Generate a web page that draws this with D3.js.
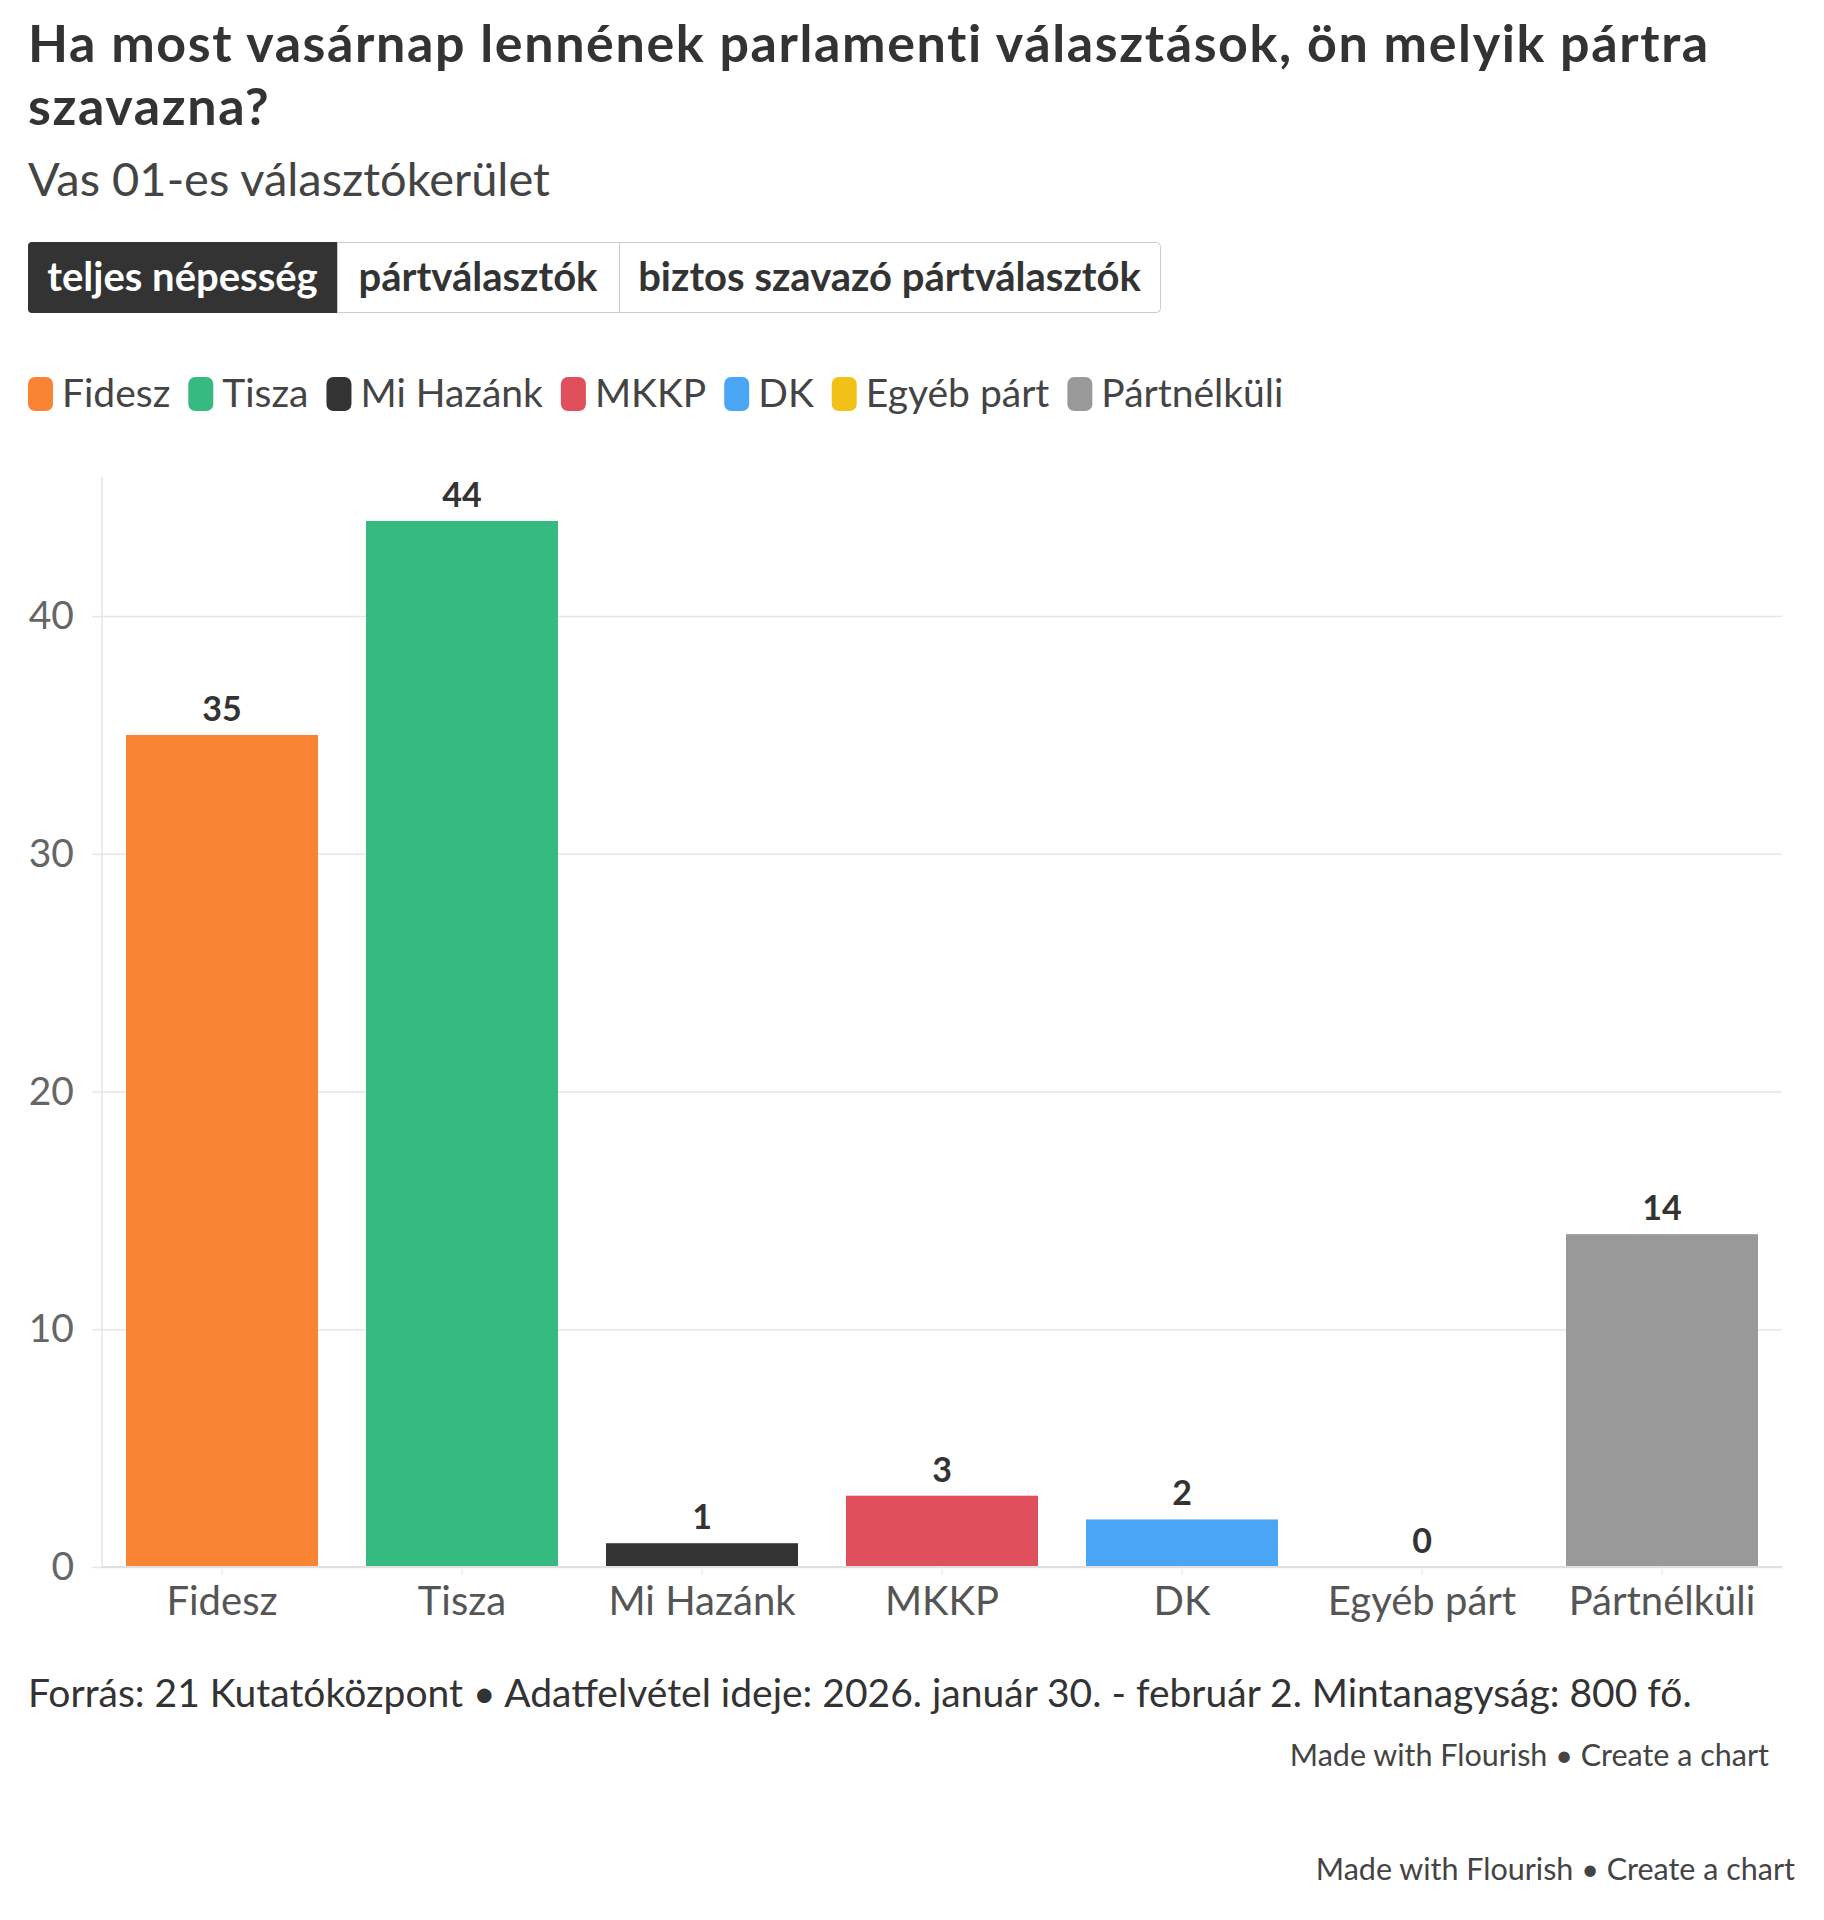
<!DOCTYPE html>
<html>
<head>
<meta charset="utf-8">
<script src="https://cdn.jsdelivr.net/npm/d3@7"></script>
<style>
  body { margin: 0; background: #fff; }
  svg text { font-family: "Lato", "Open Sans", sans-serif; }
</style>
</head>
<body>
<div id="chart"></div>
<script>
// data
var parties = ["Fidesz", "Tisza", "Mi Hazánk", "MKKP", "DK", "Egyéb párt", "Pártnélküli"];
var values = [35, 44, 1, 3, 2, 0, 14];
var colors = ["#f98433", "#37b982", "#333333", "#e0505c", "#4aa5f5", "#f2c117", "#999999"];
var yTicks = [0, 10, 20, 30, 40];
var tabs = ["teljes népesség", "pártválasztók", "biztos szavazó pártválasztók"];

var width = 1824, height = 1920;

var svg = d3.select("#chart").append("svg")
  .attr("width", width)
  .attr("height", height);

// header (title wraps onto two lines)
var title = svg.append("text")
  .attr("class", "title")
  .attr("x", 28)
  .attr("y", 62)
  .attr("font-size", "52px")
  .attr("font-weight", 700)
  .attr("letter-spacing", "1.6px")
  .attr("fill", "#333");
["Ha most vasárnap lennének parlamenti választások, ön melyik pártra", "szavazna?"].forEach(function(t, i){
  title.append("tspan")
    .attr("x", 28)
    .attr("dy", i === 0 ? 0 : 63)
    .text(t);
});

svg.append("text")
  .attr("x", 28)
  .attr("y", 196)
  .attr("font-size", "47px")
  .attr("fill", "#444")
  .text("Vas 01-es választókerület");

// tab buttons
var tabX = [28, 337, 619, 1160];
var tabG = svg.append("g").attr("class", "tabs");
tabG.append("rect")
  .attr("x", tabX[0] + 0.5).attr("y", 242.5)
  .attr("width", tabX[3] - tabX[0]).attr("height", 70)
  .attr("rx", 4)
  .attr("fill", "#fff").attr("stroke", "#ccc");
tabs.forEach(function(t, i){
  if (i === 0) {
    tabG.append("path")
      .attr("d", "M" + (tabX[1]) + ",242 H" + (tabX[0] + 4) + " q-4,0 -4,4 V309 q0,4 4,4 H" + tabX[1] + " Z")
      .attr("fill", "#333");
  } else {
    tabG.append("line")
      .attr("x1", tabX[i] + 0.5).attr("x2", tabX[i] + 0.5)
      .attr("y1", 243).attr("y2", 312)
      .attr("stroke", "#ccc");
  }
  tabG.append("text")
    .attr("x", (tabX[i] + tabX[i + 1]) / 2)
    .attr("y", 291)
    .attr("text-anchor", "middle")
    .attr("font-size", "40px")
    .attr("font-weight", 700)
    .attr("fill", i === 0 ? "#fff" : "#333")
    .text(t);
});

// legend
var legend = svg.append("g").attr("class", "legend").attr("transform", "translate(28,394)");
var lx = 0;
parties.forEach(function(p, i){
  var item = legend.append("g").attr("transform", "translate(" + lx + ",0)");
  item.append("rect")
    .attr("x", 0).attr("y", -17)
    .attr("width", 25).attr("height", 34)
    .attr("rx", 7)
    .attr("fill", colors[i]);
  var txt = item.append("text")
    .attr("x", 34)
    .attr("y", 13)
    .attr("font-size", "39px")
    .attr("fill", "#444")
    .text(p);
  lx += 34 + txt.node().getComputedTextLength() + 18;
});

// chart
var margin = { top: 477, left: 102, right: 42, bottom: 1567 };

var x = d3.scaleBand()
  .domain(parties)
  .range([margin.left, width - margin.right])
  .paddingInner(0.2)
  .paddingOuter(0.1);

var y = d3.scaleLinear()
  .domain([0, 45.85])
  .range([margin.bottom, margin.top]);

// grid
svg.append("g")
  .attr("class", "grid")
  .attr("transform", "translate(" + margin.left + ",0)")
  .call(d3.axisLeft(y).tickValues(yTicks).tickSize(-(width - margin.right - margin.left)).tickFormat(""))
  .call(function(g){
    g.select(".domain").remove();
    g.selectAll("line").attr("stroke", "#e6e6e6").attr("stroke-width", 1.5);
  });

// y axis line
svg.append("line")
  .attr("x1", margin.left).attr("x2", margin.left)
  .attr("y1", margin.top).attr("y2", margin.bottom)
  .attr("stroke", "#e6e6e6").attr("stroke-width", 1.5);

// y labels
svg.append("g")
  .attr("class", "y-axis")
  .attr("transform", "translate(" + margin.left + ",0)")
  .call(d3.axisLeft(y).tickValues(yTicks).tickSize(10).tickPadding(18))
  .call(function(g){
    g.select(".domain").remove();
    g.selectAll("line").attr("stroke", "#e6e6e6").attr("stroke-width", 1.5);
    g.selectAll("text")
      .attr("font-size", "39px")
      .attr("fill", "#666")
      .attr("font-family", "Lato, sans-serif");
  });

// bars
svg.append("g").attr("class", "bars")
  .selectAll("rect")
  .data(values)
  .enter()
  .append("rect")
    .attr("x", function(d, i){ return x(parties[i]); })
    .attr("y", function(d){ return y(d); })
    .attr("width", x.bandwidth())
    .attr("height", function(d){ return y(0) - y(d); })
    .attr("fill", function(d, i){ return colors[i]; });

// value labels
svg.append("g").attr("class", "labels")
  .selectAll("text")
  .data(values)
  .enter()
  .append("text")
    .attr("x", function(d, i){ return x(parties[i]) + x.bandwidth() / 2; })
    .attr("y", function(d){ return y(d) - 14; })
    .attr("text-anchor", "middle")
    .attr("font-size", "34px")
    .attr("font-weight", 700)
    .attr("fill", "#333")
    .text(function(d){ return d; });

// x axis
svg.append("g")
  .attr("class", "x-axis")
  .attr("transform", "translate(0," + margin.bottom + ")")
  .call(d3.axisBottom(x).tickSize(8).tickPadding(12))
  .call(function(g){
    g.select(".domain").attr("stroke", "#e0e0e0").attr("stroke-width", 2).attr("d", "M" + margin.left + ",0H" + (width - margin.right));
    g.selectAll("line").attr("stroke", "#e6e6e6");
    g.selectAll("text")
      .attr("font-size", "40px")
      .attr("fill", "#555")
      .attr("font-family", "Lato, sans-serif");
  });

// footer
svg.append("text")
  .attr("x", 28)
  .attr("y", 1707)
  .attr("font-size", "39px")
  .attr("fill", "#333")
  .text("Forrás: 21 Kutatóközpont • Adatfelvétel ideje: 2026. január 30. - február 2. Mintanagyság: 800 fő.");

[[1769, 1766], [1795, 1880]].forEach(function(p){
  svg.append("text")
    .attr("x", p[0])
    .attr("y", p[1])
    .attr("text-anchor", "end")
    .attr("font-size", "30.5px")
    .attr("fill", "#444")
    .text("Made with Flourish • Create a chart");
});
</script>
</body>
</html>
